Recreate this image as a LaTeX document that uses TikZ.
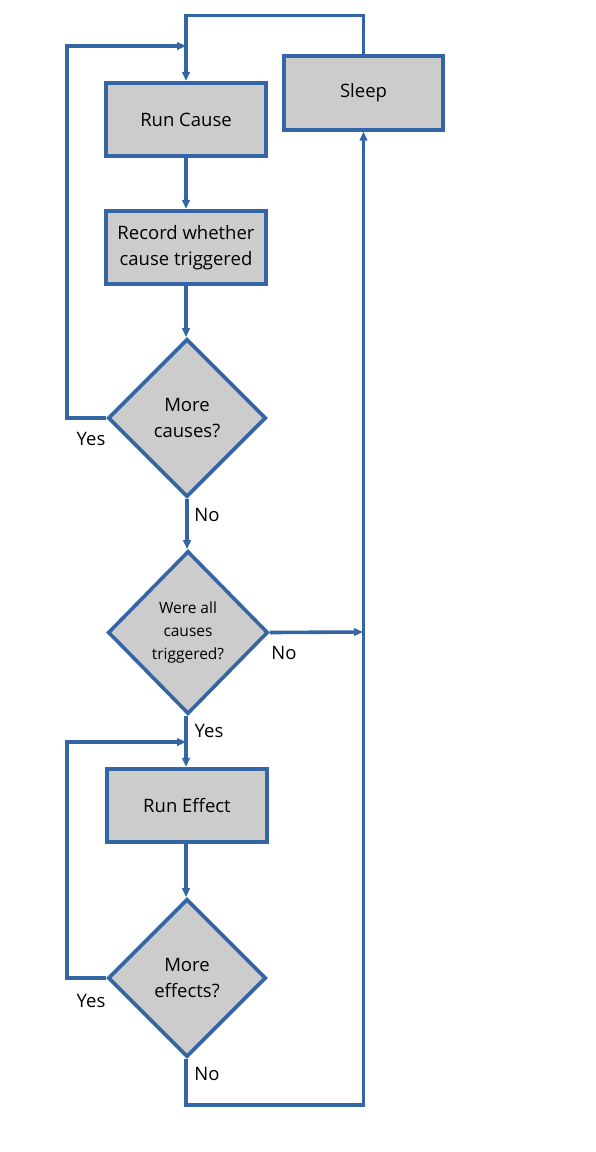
\documentclass[tikz,border=0pt]{standalone}
\usepackage{fontspec}
\setmainfont{Open Sans}
\usetikzlibrary{shapes.geometric,arrows.meta}
\definecolor{lblue}{RGB}{52,101,164}
\definecolor{boxgray}{RGB}{204,204,204}
\begin{document}
\begin{tikzpicture}[x=1pt,y=-1pt,
  box/.style={draw=lblue,line width=3.6pt,fill=boxgray,minimum width=159.5pt,minimum height=73.5pt,inner sep=0pt,align=center,font=\fontsize{18.5}{26}\selectfont},
  dia/.style={draw=lblue,line width=3.6pt,fill=boxgray,shape=diamond,aspect=1,inner sep=0pt,align=center,font=\fontsize{18.5}{26}\selectfont},
  conn/.style={draw=lblue,line width=3.6pt},
  arr/.style={conn,-{Triangle[length=9pt,width=7.5pt]}},
  lbl/.style={font=\fontsize{18.5}{20}\selectfont,inner sep=0pt}]
\useasboundingbox (0,0) rectangle (595,1152);
\node[box] (runcause) at (186,119.5) {Run Cause};
\node[box] (record) at (186,247.5) {Record whether\\cause triggered};
\node[dia,minimum width=158pt,minimum height=158pt] (d1) at (187,418) {More\\causes?};
\node[dia,minimum width=160pt,minimum height=163pt,font=\fontsize{15.5}{23}\selectfont] (d2) at (188,632.5) {Were all\\causes\\triggered?};
\node[box] (runeffect) at (187,805.5) {Run Effect};
\node[dia,minimum width=158pt,minimum height=158pt] (d3) at (187,978) {More\\effects?};
\node[box] (sleep) at (363.5,93) {Sleep};
\coordinate (j1) at (186,46);
\coordinate (j2) at (363,632);
\coordinate (j3) at (186,742);
\draw[arr] (sleep.north) -- ++(0,-39) -| (runcause.north);
\draw[arr] (d1.west) -- (67,418) |- (j1);
\draw[arr] (runcause.south) -- (record.north);
\draw[arr] (record.south) -- (d1.north -| record.south);
\draw[arr] (d1.south) -- (d2.north -| d1.south);
\draw[arr] (d2.east) -- (j2);
\draw[arr] (d2.south -| runcause.south) -- (runeffect.north -| runcause.south);
\draw[arr] (d3.west) -- (67,978) |- (j3);
\draw[arr] (runeffect.south -| runcause.south) -- (d3.north -| runcause.south);
\draw[arr] (d3.south -| runcause.south) -- (186,1105) -| (sleep.south);
\node[lbl] (y1) at (91,439) {Yes};
\node[lbl] (n1) at (207,515) {No};
\node[lbl] (n2) at (284,653) {No};
\node[lbl] (y2) at (209,731) {Yes};
\node[lbl] (y3) at (91,1001) {Yes};
\node[lbl] (n3) at (207,1074) {No};
\end{tikzpicture}
\end{document}
